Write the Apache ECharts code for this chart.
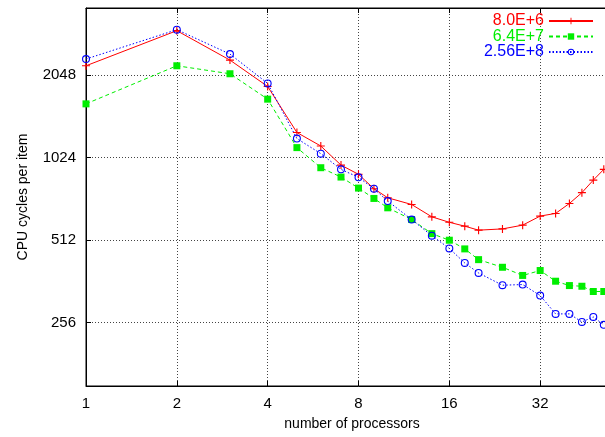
<!DOCTYPE html>
<html>
<head>
<meta charset="utf-8">
<script src="https://cdn.jsdelivr.net/npm/echarts@6/dist/echarts.min.js"></script>
<style>html,body{margin:0;padding:0;background:#fff;overflow:hidden;width:605px;height:437px}#c{width:640px;height:437px}</style>
</head>
<body>
<div id="c"></div>
<script>
const procs = [1,2,3,4,5,6,7,8,9,10,12,14,16,18,20,24,28,32,36,40,44,48,52];
const s8e6 = [2215,2975,2323,1861,1264,1128,961,889,788,730,690,622,594,575,556,562,580,626,640,696,762,847,927];
const s64e7 = [1608,2215,2071,1673,1113,940,869,792,726,671,608,540,511,475,434,407,380,396,362,349,347,332,332];
const s256e8 = [2344,3000,2444,1910,1201,1058,927,867,788,710,608,531,477,422,388,350,352,321,275,275,257,268,251];
const seriesNames = ['8.0E+6','6.4E+7','2.56E+8'];
const xTicks = [1,2,4,8,16,32];
const yTicks = [256,512,1024,2048];

const FONT = 'Liberation Sans';
const plusPath = 'path://M4.3,0H5.7V4.3H10V5.7H5.7V10H4.3V5.7H0V4.3H4.3Z';
const ringPath = 'path://M5,0A5,5 0 1,1 5,10A5,5 0 1,1 5,0ZM5,1.4A3.6,3.6 0 1,0 5,8.6A3.6,3.6 0 1,0 5,1.4Z';

function pairs(ys){ return procs.map((x,i)=>[x, ys[i]]); }
function isTick(v, list){ return list.some(t => Math.abs(v - t) < 1e-6 * t); }

const colors = ['#ff0000','#00ee00','#0000ff'];
const chart = echarts.init(document.getElementById('c'), null, {renderer:'canvas'});
chart.setOption({
  animation: false,
  backgroundColor: '#fff',
  grid: {left: 86, top: 8, right: 9, bottom: 51, show: true, borderColor: '#000', borderWidth: 1},
  legend: seriesNames.map((n,i)=>({
    data: [{name: n, textStyle: {color: colors[i]}}],
    right: 46, top: 13 + i*15.5, align: 'right', orient: 'vertical',
    itemWidth: 44, itemHeight: 8, itemGap: 0, padding: 0,
    textStyle: {fontFamily: FONT, fontSize: 16, color: colors[i]}
  })),
  xAxis: [{
    type: 'log', logBase: 2, min: 1, max: 64, interval: 1,
    name: 'number of processors', nameLocation: 'middle', nameGap: 31,
    nameTextStyle: {fontFamily: FONT, fontSize: 14, color: '#000', padding: [0, 13, 0, 0]},
    axisLine: {lineStyle: {color: '#000', width: 1}},
    axisTick: {inside: true, length: 5, lineStyle: {color: '#000'}},
    axisLabel: {fontFamily: FONT, fontSize: 15, color: '#000', margin: 10,
      formatter: v => isTick(v, xTicks) ? String(Math.round(v)) : ''},
    splitLine: {show: true, lineStyle: {color: '#444', width: 1, type: [1,2]}}
  }, {
    type: 'log', logBase: 2, min: 1, max: 64, interval: 1, position: 'top',
    axisLine: {show: true, lineStyle: {color: '#000', width: 1}},
    axisTick: {show: true, inside: true, length: 5, lineStyle: {color: '#000'}},
    axisLabel: {show: false}, splitLine: {show: false}
  }],
  yAxis: {
    type: 'log', logBase: 2, min: 150, max: 3600,
    name: 'CPU cycles per item', nameLocation: 'middle', nameGap: 56,
    nameTextStyle: {fontFamily: FONT, fontSize: 14, color: '#000'},
    axisLine: {lineStyle: {color: '#000', width: 1}},
    axisTick: {inside: true, length: 5, lineStyle: {color: '#000'}},
    axisLabel: {fontFamily: FONT, fontSize: 15, color: '#000', margin: 10,
      formatter: v => isTick(v, yTicks) ? String(Math.round(v)) : ''},
    splitLine: {show: true, lineStyle: {color: '#444', width: 1, type: [1,2]}}
  },
  series: [
    {name: seriesNames[0], type: 'line', data: pairs(s8e6), symbol: plusPath, symbolSize: 8,
      itemStyle: {color: colors[0]}, lineStyle: {color: colors[0], width: 1, type: 'solid'}},
    {name: seriesNames[1], type: 'line', data: pairs(s64e7), symbol: 'rect', symbolSize: 7,
      itemStyle: {color: colors[1]}, lineStyle: {color: colors[1], width: 1, type: [4,3]}},
    {name: seriesNames[2], type: 'line', data: pairs(s256e8), symbol: ringPath, symbolSize: 8,
      itemStyle: {color: colors[2]}, lineStyle: {color: colors[2], width: 1, type: [1.5,2]}}
  ]
});
</script>
</body>
</html>
